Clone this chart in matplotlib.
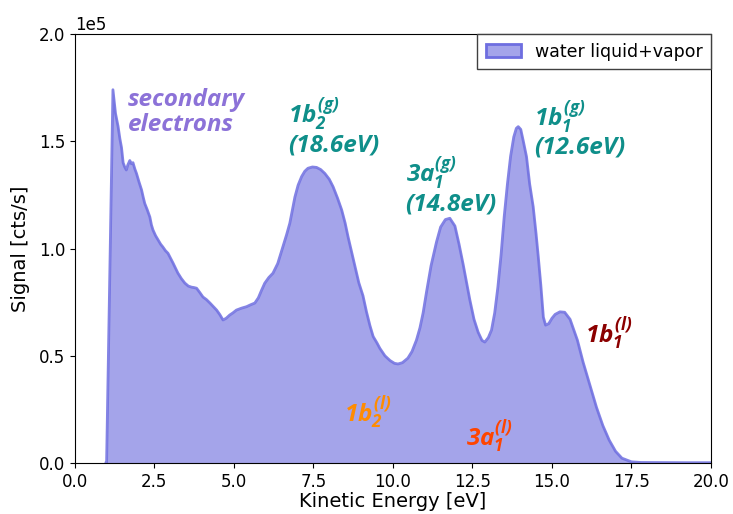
import matplotlib
matplotlib.use("Agg")
import matplotlib.pyplot as plt
from matplotlib.patches import Patch
from matplotlib.ticker import MultipleLocator

# Kinetic energy [eV]  (rows of 10)
energy = [0.98, 1.00, 1.20, 1.28, 1.36, 1.42, 1.47, 1.52, 1.57, 1.62,
          1.67, 1.73, 1.78, 1.83, 1.89, 1.94, 2.02, 2.10, 2.15, 2.20,
          2.28, 2.36, 2.41, 2.46, 2.54, 2.62, 2.70, 2.77, 2.85, 2.93,
          3.01, 3.09, 3.16, 3.24, 3.35, 3.46, 3.57, 3.67, 3.75, 3.83,
          3.93, 4.03, 4.14, 4.25, 4.35, 4.46, 4.56, 4.66, 4.76, 4.87,
          4.97, 5.08, 5.24, 5.40, 5.53, 5.66, 5.77, 5.87, 5.97, 6.10,
          6.23, 6.38, 6.54, 6.66, 6.76, 6.84, 6.92, 7.02, 7.13, 7.23,
          7.33, 7.47, 7.60, 7.73, 7.86, 8.00, 8.12, 8.26, 8.39, 8.50,
          8.59, 8.70, 8.81, 8.93, 9.06, 9.17, 9.28, 9.38, 9.50, 9.59,
          9.75, 9.91, 10.05, 10.16, 10.30, 10.47, 10.60, 10.74, 10.85, 10.95,
          11.06, 11.20, 11.37, 11.50, 11.65, 11.79, 11.95, 12.08, 12.21, 12.32,
          12.42, 12.55, 12.68, 12.80, 12.89, 13.00, 13.10, 13.20, 13.30, 13.40,
          13.50, 13.60, 13.70, 13.80, 13.88, 13.94, 14.02, 14.10, 14.20, 14.30,
          14.41, 14.50, 14.57, 14.65, 14.73, 14.80, 14.90, 15.00, 15.10, 15.25,
          15.40, 15.57, 15.70, 15.80, 15.98, 16.20, 16.40, 16.60, 16.80, 17.00,
          17.20, 17.50, 17.80, 18.50, 19.20, 20.00]

# Signal [cts/s]  (rows of 10, aligned with energy)
signal = [0, 0, 174000, 163000, 157000, 151000, 147000, 140000, 138000, 136600,
          139000, 141000, 139500, 140000, 137000, 135000, 131000, 127300, 124000, 121000,
          118000, 114700, 111000, 108600, 106000, 104000, 102000, 100700, 99000, 97800,
          95500, 93200, 91000, 88600, 86000, 83900, 82500, 82000, 81800, 81500,
          79500, 77400, 76200, 74600, 73000, 71300, 69200, 66700, 67500, 69000,
          70000, 71300, 72200, 72900, 73800, 74600, 77000, 80500, 83800, 86500,
          88500, 93000, 100800, 106500, 111800, 118000, 124000, 129500, 133500, 136000,
          137400, 138000, 137800, 136800, 135000, 132300, 128800, 123500, 118000, 111800,
          105500, 98500, 91500, 84000, 78000, 70500, 64000, 59000, 56000, 53500,
          50000, 47800, 46500, 46200, 46800, 48900, 52000, 57300, 63000, 70000,
          80000, 92000, 103000, 110000, 113500, 114100, 110500, 102000, 92500, 84000,
          76000, 67000, 61000, 57200, 56400, 58500, 62000, 70000, 82000, 97000,
          115000, 130000, 143000, 152000, 156000, 156800, 155500, 150000, 142800, 130000,
          119500, 107000, 96200, 83000, 68000, 64300, 65000, 67500, 69300, 70500,
          70300, 67000, 61500, 57300, 47000, 36000, 26000, 17500, 10700, 5500,
          2300, 600, 300, 250, 200, 200]

# Peak annotations
labels = [r"$1b_2^{(g)}$" + "\n(18.6eV)",
          r"$3a_1^{(g)}$" + "\n(14.8eV)",
          r"$1b_1^{(g)}$" + "\n(12.6eV)",
          r"$1b_1^{(l)}$",
          r"$1b_2^{(l)}$",
          r"$3a_1^{(l)}$",
          "secondary\nelectrons"]
label_x = [6.7, 10.4, 14.45, 16.05, 8.45, 12.3, 1.68]
label_y = [171000, 143500, 170000, 68500, 32000, 20500, 175000]
label_colors = ["#0f8f8a", "#0f8f8a", "#0f8f8a", "#8b0000", "#ff8c00", "#ff4500", "#8c72d8"]
label_spacing = [1.0, 1.0, 1.0, 1.0, 1.0, 1.0, 1.08]

plt.rcParams["mathtext.fontset"] = "custom"
plt.rcParams["mathtext.rm"] = "Open Sans:italic:bold"
plt.rcParams["mathtext.it"] = "Open Sans:italic:bold"
plt.rcParams["mathtext.bf"] = "Open Sans:italic:bold"

fig = plt.figure(figsize=(7.33, 5.14), dpi=100)
ax = fig.add_axes([0.102, 0.099, 0.868, 0.835])

fill_color = "#a4a4ea"
line_color = "#6e6ee0"
ax.fill_between(energy, 0, signal, color=fill_color, linewidth=0)
ax.plot(energy, signal, color=line_color, lw=2.0, alpha=0.85)

for txt, lx, ly, c, ls in zip(labels, label_x, label_y, label_colors, label_spacing):
    ax.text(lx, ly, txt, color=c, fontsize=17.5, fontfamily="Open Sans",
            fontweight="bold", fontstyle="italic", ha="left", va="top",
            linespacing=ls)

ax.set_xlim(0, 20)
ax.set_ylim(0, 200000)
ax.xaxis.set_major_locator(MultipleLocator(2.5))
ax.yaxis.set_major_locator(MultipleLocator(50000))
ax.ticklabel_format(style="sci", axis="y", scilimits=(0, 0))
ax.tick_params(labelsize=12)
ax.yaxis.get_offset_text().set_fontsize(12)
ax.set_xlabel("Kinetic Energy [eV]", fontsize=14, labelpad=1)
ax.set_ylabel("Signal [cts/s]", fontsize=14, labelpad=6)

handle = Patch(facecolor=fill_color, edgecolor=line_color, linewidth=2)
leg = ax.legend([handle], ["water liquid+vapor"], loc="upper right",
                fontsize=12.5, fancybox=False, framealpha=1, edgecolor="0.25",
                borderaxespad=0.0, borderpad=0.5, handlelength=2.0)
leg.get_frame().set_linewidth(1.0)

fig.savefig("out.png", dpi=100)
